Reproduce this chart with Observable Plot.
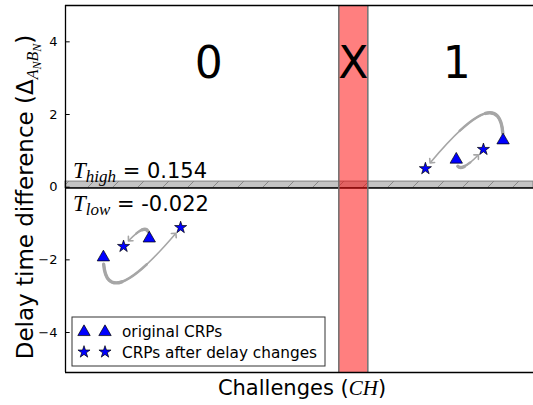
<!DOCTYPE html>
<html><head><meta charset="utf-8">
<script src="https://cdn.jsdelivr.net/npm/d3@7"></script>
<script src="https://cdn.jsdelivr.net/npm/@observablehq/plot@0.6"></script>
<style>body{margin:0;background:#fff} svg{display:block;overflow:hidden}</style>
</head><body><div id="chart"></div>
<script>
// ---- data ----
const regionNames = ["0", "X", "1"];
const regionX = [3.06, 6.15, 8.36];
const regionY = [3.40, 3.40, 3.40];
const unstableX = [5.84, 6.46];          // the "X" band
const tHigh = 0.154, tLow = -0.022;      // thresholds
const origX  = [0.81, 1.79, 8.35, 9.35]; // original CRPs (triangles)
const origY  = [-1.93, -1.41, 0.76, 1.29];
const afterX = [2.46, 1.24, 8.93, 7.69]; // CRPs after delay changes (stars)
const afterY = [-1.11, -1.63, 1.04, 0.51];
const bendX  = [0.81, 1.79, 8.35, 9.35]; // curve control points
const bendY  = [-3.67, -0.81, 0.21, 3.13];
const yTicks = [-4, -2, 0, 2, 4];
const xDomain = [0, 10], yDomain = [-5.1, 5];
const legendLabels = ["original CRPs", "CRPs after delay changes"];

// ---- tables ----
const orig = origX.map((x, i) => ({x, y: origY[i]}));
const after = afterX.map((x, i) => ({x, y: afterY[i]}));
const curves = origX.flatMap((x, i) => [
  {id: i, x, y: origY[i]},
  {id: i, x: bendX[i], y: bendY[i]},
  {id: i, x: afterX[i], y: afterY[i]}
]);
const regions = regionNames.map((t, i) => ({t, x: regionX[i], y: regionY[i]}));

// quadratic curve through control point, shrunk by pixels at both ends,
// keeping the part between fractions f0..f1 of the remaining arc length
function quadPart(f0, f1, shrinkA = 7, shrinkB = 9) {
  return function(context) {
    let pts = [];
    return {
      areaStart() {}, areaEnd() {},
      lineStart() { pts = []; },
      point(x, y) { pts.push([+x, +y]); },
      lineEnd() {
        if (pts.length < 3) return;
        const [P0, P1, P2] = pts;
        const B = t => [0, 1].map(k => (1-t)*(1-t)*P0[k] + 2*t*(1-t)*P1[k] + t*t*P2[k]);
        const N = 400, cum = [0];
        let prev = B(0);
        for (let i = 1; i <= N; i++) { const p = B(i / N); cum.push(cum[i-1] + Math.hypot(p[0]-prev[0], p[1]-prev[1])); prev = p; }
        const L = cum[N];
        const tAt = s => { let i = d3.bisectLeft(cum, s); i = Math.max(1, Math.min(N, i)); const a = cum[i-1], b = cum[i]; return (i - 1 + (b > a ? (s - a) / (b - a) : 0)) / N; };
        const sA = shrinkA, sB = L - shrinkB;
        const a = tAt(sA + f0 * (sB - sA)), b = tAt(sA + f1 * (sB - sA));
        const bl = (u, v) => [0, 1].map(k => (1-u)*(1-v)*P0[k] + ((1-u)*v + u*(1-v))*P1[k] + u*v*P2[k]);
        const A = bl(a, a), C = bl(a, b), E = bl(b, b);
        context.moveTo(A[0], A[1]);
        context.quadraticCurveTo(C[0], C[1], E[0], E[1]);
      }
    };
  };
}

const gray = "#a6a6a6";
const plot = Plot.plot({
  width: 533, height: 405,
  marginLeft: 65, marginRight: 0, marginTop: 5, marginBottom: 33,
  style: {fontFamily: "DejaVu Sans", fontSize: "13px", color: "black", background: "white"},
  x: {domain: xDomain, axis: null},
  y: {domain: yDomain, axis: null},
  marks: [
    // threshold band
    Plot.rect([{}], {x1: xDomain[0], x2: xDomain[1], y1: tLow, y2: tHigh, fill: "#c4c4c4", stroke: "#808080", strokeWidth: 1, className: "band"}),
    Plot.ruleY([tLow], {stroke: "black", strokeWidth: 1.5}),
    // unstable region
    Plot.rect([{}], {x1: unstableX[0], x2: unstableX[1], y1: yDomain[0], y2: yDomain[1], fill: "red", fillOpacity: 0.5}),
    Plot.ruleX(unstableX, {stroke: "#707070", strokeWidth: 1.5}),
    // curves (tapered)
    Plot.line(curves, {x: "x", y: "y", z: "id", curve: quadPart(0, 1), stroke: gray, strokeWidth: 1.6, markerEnd: "arrow"}),
    Plot.line(curves, {x: "x", y: "y", z: "id", curve: quadPart(0, 0.6), stroke: gray, strokeWidth: 2.4}),
    Plot.line(curves, {x: "x", y: "y", z: "id", curve: quadPart(0, 0.3), stroke: gray, strokeWidth: 3.4}),
    // points
    Plot.dot(orig, {x: "x", y: "y", symbol: "triangle", r: 4.6, fill: "#0000ff", stroke: "black", strokeWidth: 0.7}),
    Plot.dot(after, {x: "x", y: "y", symbol: "star", r: 3.8, fill: "#0000ff", stroke: "black", strokeWidth: 0.7}),
    // region labels
    Plot.text(regions, {x: "x", y: "y", text: "t", fontSize: 44, fill: "black"}),
    // frame
    Plot.ruleX([xDomain[0]], {stroke: "black", strokeWidth: 1.3}),
    Plot.ruleY(yDomain, {stroke: "black", strokeWidth: 1.3}),
    // y ticks (inward) and labels
    Plot.ruleY(yTicks, {x1: xDomain[0], x2: xDomain[0] + 0.1, stroke: "black", strokeWidth: 1}),
    Plot.text(yTicks, {x: xDomain[0], y: d => d, text: d => d < 0 ? "\u2212" + Math.abs(d) : String(d), textAnchor: "end", dx: -8, fontSize: 13})
  ]
});

const svg = d3.select(plot);
// hatch pattern for threshold band
const defs = svg.insert("defs", ":first-child");
const pat = defs.append("pattern").attr("id", "hatch").attr("patternUnits", "userSpaceOnUse")
  .attr("width", 25).attr("height", 25);
pat.append("rect").attr("width", 25).attr("height", 25).attr("fill", "#c4c4c4");
pat.append("path").attr("d", "M-2,27L27,-2").attr("stroke", "#7a7a7a").attr("stroke-width", 0.8);
svg.selectAll(".band rect").attr("fill", "url(#hatch)");

const sx = plot.scale("x"), sy = plot.scale("y");
const mathFont = "Liberation Serif";

// threshold labels
function tLabel(sub, value, yPix) {
  const t = svg.append("text").attr("x", sx.apply(0.17)).attr("y", yPix).attr("text-anchor", "start")
    .attr("font-family", "DejaVu Sans").attr("font-size", 21).attr("fill", "black");
  t.append("tspan").attr("font-family", mathFont).attr("font-style", "italic").attr("font-size", 23).text("T");
  t.append("tspan").attr("font-family", mathFont).attr("font-style", "italic").attr("font-size", 17).attr("dy", 4).text(sub);
  t.append("tspan").attr("dy", -4).text(" = " + value);
}
tLabel("high", "0.154", sy.apply(tHigh) - 3);
tLabel("low", "-0.022", sy.apply(tLow) + 23.5);

// axis labels
const yl = svg.append("text").attr("transform", `translate(33,197) rotate(-90)`)
  .attr("text-anchor", "middle").attr("font-family", "DejaVu Sans").attr("font-size", 23).attr("fill", "black");
yl.append("tspan").text("Delay time difference (\u0394");
yl.append("tspan").attr("font-family", mathFont).attr("font-style", "italic").attr("font-size", 16).attr("dy", 5).text("A");
yl.append("tspan").attr("font-family", mathFont).attr("font-style", "italic").attr("font-size", 12).attr("dy", 3).text("N");
yl.append("tspan").attr("font-family", mathFont).attr("font-style", "italic").attr("font-size", 16).attr("dy", -3).text("B");
yl.append("tspan").attr("font-family", mathFont).attr("font-style", "italic").attr("font-size", 12).attr("dy", 3).text("N");
yl.append("tspan").attr("dy", -8).text(")");

const xl = svg.append("text").attr("x", (sx.apply(xDomain[0]) + 533) / 2 + 3).attr("y", 395)
  .attr("text-anchor", "middle").attr("font-family", "DejaVu Sans").attr("font-size", 21).attr("fill", "black");
xl.append("tspan").text("Challenges (");
xl.append("tspan").attr("font-family", mathFont).attr("font-style", "italic").text("CH");
xl.append("tspan").text(")");

// legend
const lg = svg.append("g").attr("transform", "translate(72,317)");
lg.append("rect").attr("width", 253).attr("height", 49).attr("fill", "white").attr("stroke", "#333").attr("stroke-width", 1);
const syms = [d3.symbol(d3.symbolTriangle, Math.PI * 4.6 * 4.6), d3.symbol(d3.symbolStar, Math.PI * 3.8 * 3.8)];
legendLabels.forEach((lab, i) => {
  const cy = 14 + i * 21;
  [12, 33].forEach(cx => lg.append("path").attr("d", syms[i]()).attr("transform", `translate(${cx},${cy + (i === 0 ? 1 : 0)})`)
    .attr("fill", "#0000ff").attr("stroke", "black").attr("stroke-width", 0.7));
  lg.append("text").attr("x", 50).attr("y", cy + 5.5).attr("text-anchor", "start").attr("font-family", "DejaVu Sans").attr("font-size", 15.3).attr("fill", "black").text(lab);
});

document.getElementById("chart").appendChild(plot);
</script>
</body></html>
